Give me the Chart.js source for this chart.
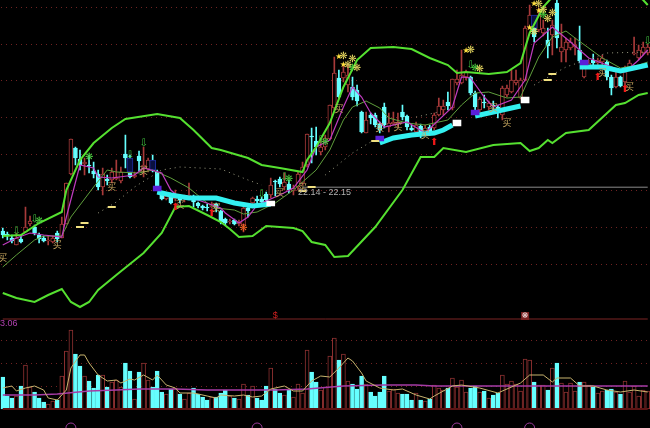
<!DOCTYPE html>
<html><head><meta charset="utf-8">
<style>html,body{margin:0;padding:0;background:#000}canvas{display:block}</style>
<script src="https://cdn.jsdelivr.net/npm/chart.js@4"></script>
</head><body><canvas id="c" width="650" height="428"></canvas>
<script>
// candle values in price ticks of 0.05
const TICK_SIZE = 0.05;
const openT = [399,396,392,385,391,398,406,403,395,392,389,388,397,392,406,456,482,471,466,465,459,456,443,451,450,451,449,476,458,453,474,462,461,465,458,436,431,435,431,433,431,433,433,427,424,423,423,426,419,411,408,410,406,405,422,427,431,431,436,435,449,451,443,446,439,443,447,465,494,489,478,483,491,522,552,552,545,543,540,518,497,515,515,506,523,503,506,506,518,514,502,498,504,497,503,502,515,520,528,522,547,547,553,553,537,520,528,523,525,523,515,535,538,547,532,550,602,602,600,597,590,595,627,578,580,582,583,580,553,563,570,567,568,568,553,543,553,548,562,576,572,577,577];
const closeT = [395,394,389,392,388,403,409,397,391,389,390,392,391,406,447,491,472,465,468,464,456,443,456,449,458,453,458,472,453,455,469,465,470,459,443,431,434,427,434,430,433,435,428,424,422,422,426,422,408,407,409,406,408,422,419,432,429,428,430,445,448,446,448,440,442,456,463,496,493,483,483,492,525,557,533,558,555,533,529,498,510,512,505,500,505,507,508,508,513,503,500,505,497,502,498,515,524,524,524,551,551,555,558,537,523,531,527,527,524,517,542,542,550,550,550,602,615,593,615,602,584,605,592,583,588,588,585,569,562,567,567,570,572,553,542,553,544,562,567,577,580,583,583];
const highT = [402,398,395,397,395,423,414,405,397,394,394,394,399,413,447,491,483,480,472,475,468,460,462,455,462,470,463,495,475,458,479,483,472,475,460,438,437,437,440,435,435,447,435,428,425,426,428,427,420,412,411,411,410,424,424,433,434,433,438,452,450,453,457,450,445,458,468,496,502,503,492,495,525,573,560,564,565,553,545,519,518,517,517,508,527,517,518,517,525,515,505,508,506,505,505,517,532,530,538,551,560,580,560,554,539,533,535,529,529,525,544,545,560,560,552,604,625,610,622,610,602,610,630,606,592,592,592,604,568,570,576,572,575,570,555,558,554,564,570,593,585,588,586];
const lowT = [392,390,387,385,387,398,404,395,387,388,385,387,388,392,406,455,465,460,455,457,452,440,435,445,447,450,447,462,452,452,459,453,458,458,442,430,430,426,429,427,428,431,423,422,420,419,422,418,406,405,406,405,404,398,413,425,427,426,428,432,434,443,440,437,435,440,445,463,467,475,475,480,490,520,532,548,538,530,524,497,497,506,503,497,502,498,505,503,510,500,499,496,492,495,496,500,514,515,520,520,545,546,550,535,517,518,522,520,520,512,510,533,537,545,531,549,601,588,598,594,572,575,582,568,568,580,575,567,552,562,564,565,562,550,535,542,543,545,560,575,570,575,575];
const volume = [32,13,11,13,23,44,22,17,11,7,5,8,9,33,58,79,55,43,33,28,21,34,34,22,27,29,22,46,38,10,37,46,29,22,38,17,15,20,21,15,10,16,21,15,12,9,12,12,16,19,13,11,10,25,14,23,11,9,23,41,20,16,14,19,12,25,16,59,37,27,19,22,53,71,49,55,28,25,20,33,25,17,13,17,33,18,20,16,15,15,9,16,9,8,10,24,21,19,21,31,22,29,17,21,23,17,18,11,14,16,34,25,28,25,18,50,49,27,24,24,19,41,46,26,17,26,18,27,27,24,22,16,18,19,20,17,15,28,17,23,13,19,18];

const upperIdx = [0,4,8,13,14,17,20,24,27,34,39,42,46,48,51,54,57,61,66,67,69,72,75,78,81,86,90,94,98,100,102,107,111,114,116,119,121,125,135,141,142];
const upperVal = [19.7,19.75,20.35,20.9,22,23.5,24.35,25.1,25.55,25.8,25.6,25,24.1,24,23.8,23.6,23.25,23.1,22.9,23.5,24.15,25.35,27.15,28.5,29.1,29.15,29.05,28.6,28.25,27.85,27.9,27.8,27.9,28.35,29.85,31.15,31.65,32.5,32.5,31.5,31.25];
const lowerIdx = [0,3,7,10,13,15,17,19,21,25,31,35,38,41,45,48,50,52,55,58,64,66,68,71,73,76,82,88,92,95,97,102,108,114,116,118,120,121,124,129,135,137,140,142];
const lowerVal = [16.85,16.6,16.4,16.75,17.05,16.4,16.15,16.4,17,17.75,18.85,19.85,21.15,21.2,20.75,20.4,20.05,19.65,19.7,20.2,20.1,19.95,19.4,19.25,18.65,18.7,20.15,22,23.65,23.65,24.1,23.9,24.25,24.35,23.95,24.1,24.5,24.35,24.85,25,26.25,26.35,26.75,26.85];
const midIdx = [0,3,7,9,13,15,20,23,25,30,33,37,41,45,47,51,53,56,60,64,69,72,75,77,80,83,85,89,93,98,101,104,107,111,114,118,121,124,126,132,136,140,142];
const midVal = [18.15,18.75,19.5,19.7,19.7,20.65,22.15,23,22.9,22.85,23,22.6,22.1,21.35,21.1,21,20.8,20.9,21.35,22,23,24,25.5,26.15,26.45,26.1,25.6,25.35,25.25,25.5,26.25,26.85,26.9,26.6,26.65,28.65,29.65,29.95,29.6,28.6,28.1,28.25,28.4];
const maIdx = [0,3,6,9,13,14,17,20,21,24,29,31,35,37,39,43,48,49,52,54,56,61,64,67,69,72,75,77,79,81,84,89,93,99,101,103,106,108,112,115,117,121,125,129,133,137,140,142];
const maVal = [19.25,19.6,19.85,19.75,19.65,20.65,23.25,23.1,22.65,22.6,22.75,23.1,22.85,22,21.6,21.5,21.1,20.85,20.35,20.65,21.25,21.75,22.1,23,24.15,24.5,26.15,27.15,26.65,25.85,25.15,25.4,24.85,26.15,27.65,27.6,26.65,26.15,26.5,27.5,29.35,30.15,29.4,28.6,28.25,27.9,28.5,29];
const dots = [
  {idx:[21,25,29,35,39,48,54,57], val:[20.85,21.4,22.15,23,23.15,23.05,22.5,22.25]},
  {idx:[71,77,81], val:[22.75,23.85,24.4]},
  {idx:[91,96], val:[25.65,25.9]},
  {idx:[117,124,133,142], val:[27.25,28.15,28.85,28.9]}
];
const bands = [
  {idx:[34,37,41,47,51,55,59], val:[21.9,21.75,21.6,21.6,21.35,21.2,21.3]},
  {idx:[83,86,90,95,97,99], val:[24.35,24.6,24.75,24.85,25,25.25]},
  {idx:[104,109,114], val:[25.7,25.95,26.2]},
  {idx:[127,132,136,142], val:[28.15,28.15,27.95,28.25]}
];
const volMaIdx = [0,2,3,5,7,9,10,12,14,15,17,18,19,21,23,25,26,28,29,31,33,34,36,38,39,42,45,47,48,51,53,55,57,59,62,64,66,68,70,72,74,76,77,79,80,83,86,88,91,94,95,99,101,105,109,114,116,119,121,122,125,127,130,133,136,139,142];
const volMaVal = [21,23,18,21,23,19,11,9,19,41,54,54,46,34,28,29,26,30,29,34,29,34,24,21,16,16,13,11,14,13,14,12,13,20,23,18,18,28,33,32,41,51,48,36,28,21,19,20,14,10,13,23,24,21,16,26,34,34,27,31,31,23,23,19,17,19,17];
const volAvgIdx = [0,7,12,19,25,30,38,45,47,60,67,75,84,91,95,106,121,135,142];
const volAvgVal = [14,14,15,18,19,20,20,19,19,19,20,23,24,24,23,23,23,23,23];

const priceGrid = [18.3,20.15,22,23.8,25.65,27.5,29.3,31.15];
const volGrid = [23,46,69];
const lastPrice = 22.14;
const volTop = 90;
const whiteBlocks = {idx:[59,100,115], lo:[21.2,25.2,26.35], hi:[21.45,25.5,26.65]};
const purpleBlocks = {idx:[34,83,104,128], lo:[21.95,24.45,25.75,28.25], hi:[22.2,24.7,26,28.5]};
const blueBoxes = {idx:[28,33,117], lo:[22.9,23,30.1], hi:[23.6,23.5,30.75]};
const dashIdx = [17,18,24,66,68,82,120,121];
const dashVal = [20.15,20.35,21.15,21.95,22.15,24.45,27.5,27.8];
const arcIdx = [15,56,100,116];
const arcVal = [-19,-19,-19,-19];

const buyIdx = [0,12,24,31,39,47,61,66,74,83,87,93,108,111,132,138];
const buyVal = [18.6,19.25,22.15,22.95,21.25,21.1,21.85,22.1,26.05,25.1,25.15,24.75,26.1,25.35,27.85,27.15];
const hollowArrowIdx = [3,7,28,31,57,62,70,103,142];
const hollowArrowVal = [19.95,20.55,23.75,24.35,21.8,22.65,24.5,28.25,29.45];
const greenFlowerIdx = [8,19,63,71,77,104,119];
const greenFlowerVal = [20.45,23.65,22.55,24.4,28.1,28.1,30.75];
const starIdx = [74,75,102,116,117,118];
const starVal = [28.65,28.25,28.95,30.1,31.3,30.95];
const flowerIdx = [75,77,76,78,103,105,118,119,121,120,117];
const flowerVal = [28.7,28.55,28.25,28.1,29,28.05,31.3,31,30.85,30.55,29.9];
const redArrowIdx = [38,46,95,131,137];
const redArrowVal = [21.15,20.85,24.4,27.65,27.05];
const orangeIdx = [53];
const orangeVal = [20.1];

const RED = '#a83a3a', CYAN = '#66ffff';
const labels = openT.map((_, i) => i);
const open = openT.map(v => v * TICK_SIZE), close = closeT.map(v => v * TICK_SIZE);
const high = highT.map(v => v * TICK_SIZE), low = lowT.map(v => v * TICK_SIZE);
const isUp = closeT.map((c, i) => c >= openT[i]);
const sparse = (idx, vals) => { const a = labels.map(() => null); idx.forEach((k, j) => a[k] = vals[j]); return a; };
const blocks = b => { const a = labels.map(() => null); b.idx.forEach((k, j) => a[k] = [b.lo[j], b.hi[j]]); return a; };
const line = (data, color, width, axis, extra) => Object.assign({type:'line', data, borderColor:color, borderWidth:width, pointRadius:0, spanGaps:true, tension:0, yAxisID:axis||'yP', fill:false}, extra||{});
const bar = (data, bg, bd, thick, axis, bw) => ({type:'bar', data, backgroundColor:bg, borderColor:bd, barThickness:thick, borderWidth:bw===undefined?1:bw, borderSkipped:false, grouped:false, yAxisID:axis||'yP'});

const list = [
  bar(volume, isUp.map(u => u ? '#000' : CYAN), isUp.map(u => u ? '#8c3030' : CYAN), 4, 'yV'),
  line(sparse([0,142], [volTop,volTop]), '#7c2525', 1, 'yV'),
  line(sparse([0,142], [0,0]), '#5c1414', 2, 'yV'),
  line(sparse(volAvgIdx, volAvgVal), '#a63ca6', 1.5, 'yV'),
  line(sparse(volMaIdx, volMaVal), '#c8b46e', 1, 'yV'),
  line(sparse(arcIdx, arcVal), '#9a3a9a', 1, 'yV', {showLine:false, pointRadius:5, pointBackgroundColor:'transparent', pointStyle:['circle','triangle','circle','circle']}),
  line(sparse([66,142], [lastPrice,lastPrice]), '#8a8a8a', 1),
  bar(blocks({idx:labels, lo:low, hi:high}), isUp.map(u => u ? RED : CYAN), isUp.map(u => u ? RED : CYAN), 1, 'yP', 0),
  bar(blocks({idx:labels, lo:open.map((o,i)=>Math.min(o,close[i])), hi:open.map((o,i)=>Math.max(o,close[i]))}), isUp.map(u => u ? '#000' : CYAN), isUp.map(u => u ? RED : CYAN), 4),
  bar(blocks(blueBoxes), '#0a1040', '#1c2c9c', 6),
  line(sparse(midIdx, midVal), '#5f9e3c', 1),
  line(sparse(maIdx, maVal), '#c03cc0', 1.2),
  line(sparse(upperIdx, upperVal), '#55e030', 2),
  line(sparse(lowerIdx, lowerVal), '#55e030', 2),
  ...dots.map(d => line(sparse(d.idx, d.val), '#9a9a80', 1, 'yP', {borderDash:[1,4]})),
  ...bands.map(b => line(sparse(b.idx, b.val), '#33f0f0', 5)),
  bar(blocks(whiteBlocks), '#fff', '#fff', 8, 'yP', 0),
  bar(blocks(purpleBlocks), '#5a1fd8', '#5a1fd8', 8, 'yP', 0),
  line(sparse(dashIdx, dashVal), '#f0e080', 2, 'yP', {showLine:false, pointStyle:'line', pointRadius:4, pointRotation:0, pointBorderColor:'#f0e080', pointBorderWidth:2})
];
const datasets = list.map((d, k) => Object.assign(d, {order: list.length - k}));

const glyphs = [
  {idx:hollowArrowIdx, val:hollowArrowVal, t:'\u21E9', c:'#3fc03f', f:'10px "DejaVu Sans"'},
  {idx:greenFlowerIdx, val:greenFlowerVal, t:'\u274B', c:'#4cd040', f:'10px "DejaVu Sans"'},
  {idx:flowerIdx, val:flowerVal, t:'\u274B', c:'#e8d860', f:'10px "DejaVu Sans"'},
  {idx:starIdx, val:starVal, t:'\u2605', c:'#ffe040', f:'8px "DejaVu Sans"'},
  {idx:buyIdx, val:buyVal, t:'\u4E70', c:'#c8a860', f:'9px "Noto Sans CJK SC"'},
  {idx:redArrowIdx, val:redArrowVal, t:'\u2B06', c:'#f01818', f:'10px "DejaVu Sans"'},
  {idx:orangeIdx, val:orangeVal, t:'\u274B', c:'#f06020', f:'10px "DejaVu Sans"'}
];
const glyphPlugin = {id:'glyphs', afterDatasetsDraw(ch){
  const {ctx, scales:{x, yP, yV}} = ch;
  ctx.save(); ctx.textAlign='center'; ctx.textBaseline='middle';
  glyphs.forEach(g => { ctx.font=g.f; ctx.fillStyle=g.c;
    g.idx.forEach((k,j)=>ctx.fillText(g.t, x.getPixelForValue(k), yP.getPixelForValue(g.val[j]))); });
  ctx.font='9px "Liberation Sans"'; ctx.fillStyle='#b0b0b0'; ctx.textAlign='left';
  ctx.fillText('22.14 - 22.15', x.getPixelForValue(65), yP.getPixelForValue(21.85));
  ctx.font='9px "Liberation Sans"'; ctx.fillStyle='#b040b0';
  ctx.fillText('3.06', 0, yV.getPixelForValue(85));
  ctx.textAlign='center'; ctx.fillStyle='#d02020';
  ctx.fillText('$', x.getPixelForValue(60), yV.getPixelForValue(93));
  const sx=x.getPixelForValue(115), sy=yV.getPixelForValue(93);
  ctx.fillStyle='#7a2020'; ctx.fillRect(sx-4,sy-4,8,8);
  ctx.fillStyle='#f0e0e0'; ctx.font='8px "DejaVu Sans"'; ctx.fillText('\u274B', sx, sy);
  ctx.restore();
}};
const hiddenAxis = (min, max, ticks) => ({display:true, position:'left', min, max,
  afterBuildTicks(s){ s.ticks = ticks.map(v => ({value:v})); },
  afterFit(s){ s.width = 0; },
  ticks:{display:false}, border:{display:false, dash:[1,4]},
  grid:{color:'#702222', drawTicks:false, lineWidth:1}});
new Chart(document.getElementById('c'), {
  type:'bar',
  data:{labels, datasets},
  plugins:[glyphPlugin],
  options:{responsive:false, animation:false, events:[],
    layout:{padding:{left:0.5}, autoPadding:false},
    plugins:{legend:{display:false}, tooltip:{enabled:false}},
    scales:{
      x:{display:false, type:'category', offset:true},
      yP:hiddenAxis(202*TICK_SIZE, 630*TICK_SIZE, priceGrid),
      yV:hiddenAxis(-19, 409, volGrid)
    }}
});
</script></body></html>
